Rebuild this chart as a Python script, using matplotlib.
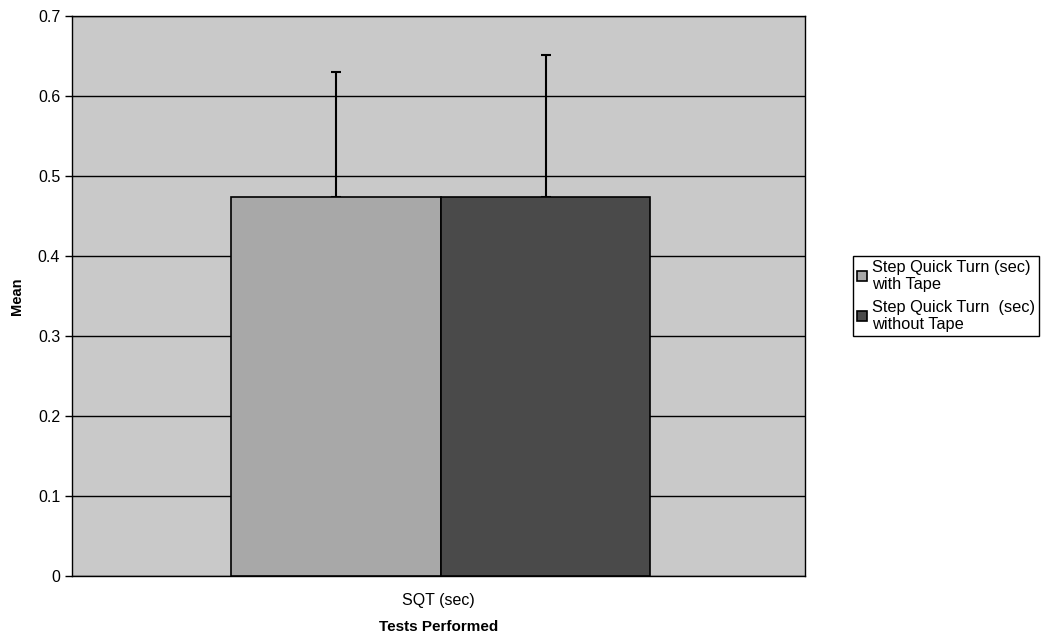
import matplotlib.pyplot as plt
import numpy as np

plt.rcParams['font.family'] = ['Liberation Sans', 'DejaVu Sans']

# data
categories = ["SQT (sec)"]
series_names = ["Step Quick Turn (sec)\nwith Tape", "Step Quick Turn  (sec)\nwithout Tape"]
means = [0.474, 0.474]
upper_err = [0.156, 0.177]
bar_colors = ["#a8a8a8", "#4a4a4a"]

fig = plt.figure(figsize=(10.51, 6.41), dpi=100)
ax = fig.add_axes([0.0685, 0.1014, 0.6975, 0.874])
ax.set_facecolor("#c9c9c9")

x = np.arange(len(categories))
width = 0.286
for i, (name, m, e, c) in enumerate(zip(series_names, means, upper_err, bar_colors)):
    pos = x + 0.003 + (i - 0.5) * width
    ax.bar(pos, [m], width=width, color=c, edgecolor="black", linewidth=1.2,
           label=name, zorder=3)
    ax.errorbar(pos, [m], yerr=[[0], [e]], fmt="none", ecolor="black",
                elinewidth=1.5, capsize=3.5, capthick=1.5, zorder=2)

ax.set_xlim(-0.5, 0.5)
ax.set_ylim(0, 0.7)
ax.set_yticks(np.arange(0, 0.71, 0.1))
ax.set_yticklabels(["0", "0.1", "0.2", "0.3", "0.4", "0.5", "0.6", "0.7"], fontsize=11.5)
ax.set_xticks(x)
ax.set_xticklabels(categories, fontsize=11.5)
ax.tick_params(axis="x", length=0, pad=12)
ax.tick_params(axis="y", length=5, width=1, direction="out")
ax.yaxis.grid(True, color="black", linewidth=1, zorder=1)
ax.set_axisbelow(True)
for s in ax.spines.values():
    s.set_linewidth(1)

ax.set_ylabel("Mean", fontsize=10.5, fontweight="bold", labelpad=10)
ax.set_xlabel("Tests Performed", fontsize=11, fontweight="bold", labelpad=9)

leg = ax.legend(loc="center left", bbox_to_anchor=(1.065, 0.5), fontsize=11.8,
                frameon=True, fancybox=False, edgecolor="black", framealpha=1,
                handlelength=0.6, handleheight=0.6, handletextpad=0.3,
                borderpad=0.25, labelspacing=0.45, borderaxespad=0)
leg.get_frame().set_linewidth(1)

fig.savefig("out.png", dpi=100)
